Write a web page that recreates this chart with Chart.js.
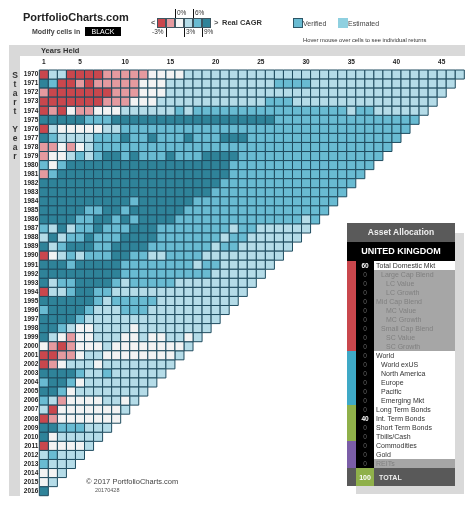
<!DOCTYPE html>
<html>
<head>
<meta charset="utf-8">
<title>Portfolio heatmap</title>
<script src="https://cdn.jsdelivr.net/npm/chart.js@4"></script>
<style>
  html, body { margin: 0; padding: 0; background: #fff; }
  body { width: 474px; height: 505px; position: relative; overflow: hidden; font-family: "Liberation Sans", Arial, sans-serif; color: #333; }
  #heatmap { position: absolute; left: 0; top: 0; z-index: 2; }
  .abs { position: absolute; white-space: nowrap; line-height: 1; z-index: 3; }
  .back { position: absolute; background: #d9d9d9; z-index: 1; }
  .cell { position: absolute; z-index: 3; box-sizing: border-box; }
  .row { position: absolute; height: 9px; left: 374px; width: 81px; font-size: 7px; line-height: 9px; z-index: 3; }
  .val { position: absolute; height: 9px; left: 356px; width: 18px; background: #000; font-size: 6.5px; line-height: 9px; text-align: center; z-index: 3; }
</style>
</head>
<body>
<canvas id="heatmap" width="474" height="505"></canvas>
<script>
// Years the portfolio was started (rows) and years held (columns)
const startYears = [];
const rowLabels = ["1970", "1971", "1972", "1973", "1974", "1975", "1976", "1977", "1978", "1979",
                   "1980", "1981", "1982", "1983", "1984", "1985", "1986", "1987", "1988", "1989",
                   "1990", "1991", "1992", "1993", "1994", "1995", "1996", "1997", "1998", "1999",
                   "2000", "2001", "2002", "2003", "2004", "2005", "2006", "2007", "2008", "2009",
                   "2010", "2011", "2012", "2013", "2014", "2015", "2016"];
const heldTicks = [1, 5, 10, 15, 20, 25, 30, 35, 40, 45];

// CAGR bands: 0 below -3%, 1 -3..0, 2 0..3, 3 3..6, 4 6..9, 5 above 9%
const bandNames = ["< -3%", "-3% to 0%", "0% to 3%", "3% to 6%", "6% to 9%", "> 9%"];
const bandColors = ["#c9474d", "#e59a9f", "#f3f3f3", "#b5dce8", "#69bbd2", "#2f8399"];

// One string per start year, one digit per year held
const cagrBands = [
  "03300 00111 11222 23333 33333 33333 33333 33333 33333 33",
  "54001 01111 12223 33333 33333 34444 33333 33333 33333 3",
  "10000 00011 12223 33333 33333 33333 33333 33333 33333",
  "00000 00111 22233 33333 33333 44433 33333 33333 3333",
  "01021 12223 33333 43444 44444 44444 44443 44333 333",
  "55555 44455 55555 55555 55555 54444 44444 44444 44",
  "03222 22334 44444 44444 44444 44444 44444 44444 4",
  "54333 34445 44544 45444 55544 44444 44444 44444",
  "11212 34444 44444 44444 44444 44444 44444 4444",
  "12234 34554 54445 44455 55444 44444 44444 444",
  "42455 55555 55555 55555 54444 44444 44444 44",
  "14555 55555 55555 55555 54444 44444 44444 4",
  "55555 55555 55555 55555 44444 44444 44444",
  "55555 55555 55555 55554 44444 44444 4444",
  "55555 55555 45555 55444 44444 44444 444",
  "55555 44554 55555 54444 44444 44444 44",
  "55554 45545 45555 44444 44444 44443 4",
  "43534 45444 55544 44444 43443 33333",
  "35344 54445 55544 44444 34433 3333",
  "53455 54455 55444 44443 44333 333",
  "02343 44455 44334 44433 33333 33",
  "55545 55554 44444 44344 33333 3",
  "55555 55554 44444 44443 33333",
  "53445 55543 44444 33333 3333",
  "03345 54433 33333 33333 333",
  "55555 54344 44433 33333 33",
  "45555 43334 44333 33333 3",
  "55554 33333 33333 33333",
  "55432 23333 23333 3333",
  "53212 23332 23223 323",
  "21012 22322 22222 23",
  "00112 33222 22222 3",
  "01233 32333 33333",
  "55554 33433 3333",
  "45542 33333 333",
  "55423 33333 33",
  "43122 22332 3",
  "30222 22223",
  "01222 2222",
  "55444 333",
  "52333 33",
  "02222 3",
  "34333",
  "4333",
  "223",
  "23",
  "5"
];

rowLabels.forEach(label => startYears.push(Number(label)));

// Asset allocation panel
const assetNames = ["Total Domestic Mkt", "Large Cap Blend", "LC Value", "LC Growth", "Mid Cap Blend",
                    "MC Value", "MC Growth", "Small Cap Blend", "SC Value", "SC Growth",
                    "World", "World exUS", "North America", "Europe", "Pacific", "Emerging Mkt",
                    "Long Term Bonds", "Int. Term Bonds", "Short Term Bonds", "Tbills/Cash",
                    "Commodities", "Gold", "REITs"];
const assetWeights = [60, 0, 0, 0, 0, 0, 0, 0, 0, 0, 0, 0, 0, 0, 0, 0, 0, 40, 0, 0, 0, 0, 0];
const assetIndent = [2, 7, 12, 12, 2, 12, 12, 7, 12, 12, 2, 7, 7, 7, 7, 7, 2, 2, 2, 2, 2, 2, 2];
const assetStrip = ["#c9474d", "#c9474d", "#c9474d", "#c9474d", "#c9474d", "#c9474d", "#c9474d", "#c9474d", "#c9474d", "#c9474d",
                    "#3fa9c6", "#3fa9c6", "#3fa9c6", "#3fa9c6", "#3fa9c6", "#3fa9c6",
                    "#8fb04a", "#8fb04a", "#8fb04a", "#8fb04a",
                    "#7b5ea7", "#7b5ea7", "#7b5ea7"];
const greyedAssets = ["Large Cap Blend", "LC Value", "LC Growth", "Mid Cap Blend", "MC Value", "MC Growth",
                      "Small Cap Blend", "SC Value", "SC Growth", "REITs"];

// One scatter dataset per band
const datasets = bandNames.map((name, band) => {
  const points = [];
  cagrBands.forEach((row, r) => {
    row.replace(/ /g, "").split("").forEach((c, h) => {
      if (Number(c) === band) points.push({ x: h + 1, y: startYears[r] });
    });
  });
  return {
    label: name,
    data: points,
    backgroundColor: bandColors[band],
    borderColor: "#1f4b5e",
    borderWidth: 1,
    pointStyle: "rect",
    pointRadius: 6.39,
    pointHoverRadius: 6.39,
    clip: false
  };
});

const tickFont = { family: "'Liberation Sans', Arial, sans-serif", size: 6.5, weight: "bold" };

new Chart(document.getElementById("heatmap").getContext("2d"), {
  type: "scatter",
  data: { datasets: datasets },
  options: {
    responsive: false,
    animation: false,
    layout: { padding: { left: 0, top: 0, right: 9.7, bottom: 9.3 } },
    plugins: { legend: { display: false }, tooltip: { enabled: false } },
    scales: {
      x: {
        type: "linear",
        position: "top",
        min: 0.5,
        max: 47.5,
        grid: { display: false, drawTicks: false },
        border: { display: false },
        afterBuildTicks: scale => { scale.ticks = heldTicks.map(v => ({ value: v })); },
        afterFit: scale => { scale.height = 70; },
        ticks: { font: tickFont, color: "#222", padding: 4, maxRotation: 0, autoSkip: false, callback: v => String(v) }
      },
      y: {
        type: "linear",
        reverse: true,
        min: 1969.5,
        max: 2016.5,
        grid: { display: false, drawTicks: false },
        border: { display: false },
        afterBuildTicks: scale => { scale.ticks = startYears.map(v => ({ value: v })); },
        afterFit: scale => { scale.width = 39.3; },
        ticks: { font: tickFont, color: "#222", padding: 1, autoSkip: false, callback: v => String(v) }
      }
    }
  }
});

// Everything around the grid
function box(x, y, w, h, bg, border) {
  const d = document.createElement("div");
  d.className = "cell";
  d.style.cssText = `left:${x}px;top:${y}px;width:${w}px;height:${h}px;background:${bg};` + (border ? `border:1px solid ${border};` : "");
  document.body.appendChild(d);
  return d;
}
function label(text, x, y, size, weight, color, align) {
  const d = document.createElement("div");
  d.className = "abs";
  d.textContent = text;
  d.style.cssText = `left:${x}px;top:${y}px;font-size:${size}px;font-weight:${weight || "normal"};color:${color || "#333"};` +
    (align === "center" ? "transform:translateX(-50%);" : "");
  document.body.appendChild(d);
  return d;
}

// grey frame
const topBar = document.createElement("div");
topBar.className = "back";
topBar.style.cssText = "left:9px;top:45px;width:456px;height:11px;";
document.body.appendChild(topBar);
const leftBar = document.createElement("div");
leftBar.className = "back";
leftBar.style.cssText = "left:9px;top:45px;width:11px;height:451px;";
document.body.appendChild(leftBar);
label("Years Held", 41, 46.5, 7.5, "bold", "#333");
"Start".split("").forEach((c, i) => label(c, 15, 70 + 9.06 * i + 0.5, 8.5, "bold", "#333", "center"));
"Year".split("").forEach((c, i) => label(c, 15, 70 + 9.06 * (i + 6) + 0.5, 8.5, "bold", "#333", "center"));

// title
label("PortfolioCharts.com", 23, 12, 11, "bold", "#222");
label("Modify cells in", 32, 28, 7, "bold", "#444");
box(85, 27, 36, 9, "#000");
label("BLACK", 103, 28, 7, "normal", "#fff", "center");

// colour key
label("<", 151, 19, 7.5, "bold", "#555");
bandColors.forEach((c, i) => box(157 + i * 9, 18, 9, 10, c === "#f3f3f3" ? "#f5f5f5" : c, "#3d5560"));
label(">", 214, 19, 7.5, "bold", "#555");
box(175, 9, 1, 9, "#111");
box(193, 9, 1, 9, "#111");
box(166, 28, 1, 9, "#111");
box(184, 28, 1, 9, "#111");
box(202, 28, 1, 9, "#111");
label("0%", 177, 10, 6.5, "normal", "#333");
label("6%", 195, 10, 6.5, "normal", "#333");
label("-3%", 152, 29, 6.5, "normal", "#333");
label("3%", 186, 29, 6.5, "normal", "#333");
label("9%", 204, 29, 6.5, "normal", "#333");
label("Real CAGR", 222, 19, 7.5, "bold", "#333");

box(293, 18, 10, 10, "#69bbd2", "#2c5566");
label("Verified", 303, 19.5, 7, "normal", "#444");
box(338, 18, 10, 10, "#8fd0e0");
label("Estimated", 348, 19.5, 7, "normal", "#444");
label("Hover mouse over cells to see individual returns", 303, 38, 5.8, "normal", "#333");

// footer
label("\u00a9 2017 PortfolioCharts.com", 86, 478, 7.5, "normal", "#444");
label("20170428", 95, 488, 5.5, "normal", "#555");

// asset allocation panel
const shadow = document.createElement("div");
shadow.className = "back";
shadow.style.cssText = "left:356px;top:233px;width:108px;height:261px;z-index:3;";
document.body.appendChild(shadow);
const header = box(347, 223, 108, 19, "#5a5a5a");
header.style.zIndex = 4;
const country = box(347, 242, 108, 19, "#000");
country.style.zIndex = 4;
label("Asset Allocation", 401, 228, 8.5, "bold", "#eee", "center").style.zIndex = 5;
label("UNITED KINGDOM", 401, 246.5, 9, "bold", "#fff", "center").style.zIndex = 5;

const rowTop = 261, rowStep = 9.01;
assetNames.forEach((name, i) => {
  const y = rowTop + i * rowStep;
  const greyed = greyedAssets.includes(name);
  box(347, y, 9, rowStep + 0.2, assetStrip[i]).style.zIndex = 4;
  const v = document.createElement("div");
  v.className = "val";
  v.style.top = y + "px";
  v.style.color = assetWeights[i] > 0 ? "#fff" : "#666";
  v.style.fontWeight = assetWeights[i] > 0 ? "bold" : "normal";
  v.style.zIndex = 4;
  v.textContent = assetWeights[i];
  document.body.appendChild(v);
  const r = document.createElement("div");
  r.className = "row";
  r.style.top = y + "px";
  r.style.height = rowStep + 0.2 + "px";
  r.style.background = greyed ? "#a6a6a6" : "#fff";
  r.style.color = greyed ? "#808080" : "#333";
  r.style.paddingLeft = assetIndent[i] + "px";
  r.style.width = 81 - assetIndent[i] + "px";
  r.style.zIndex = 4;
  r.textContent = name;
  document.body.appendChild(r);
});
box(347, 468.3, 108, 18, "#595959").style.zIndex = 4;
box(356, 468.3, 18, 18, "#8fb04a").style.zIndex = 5;
label("100", 365, 473.5, 7, "bold", "#fff", "center").style.zIndex = 6;
label("TOTAL", 379, 473.5, 7, "bold", "#eee").style.zIndex = 6;
</script>
</body>
</html>
